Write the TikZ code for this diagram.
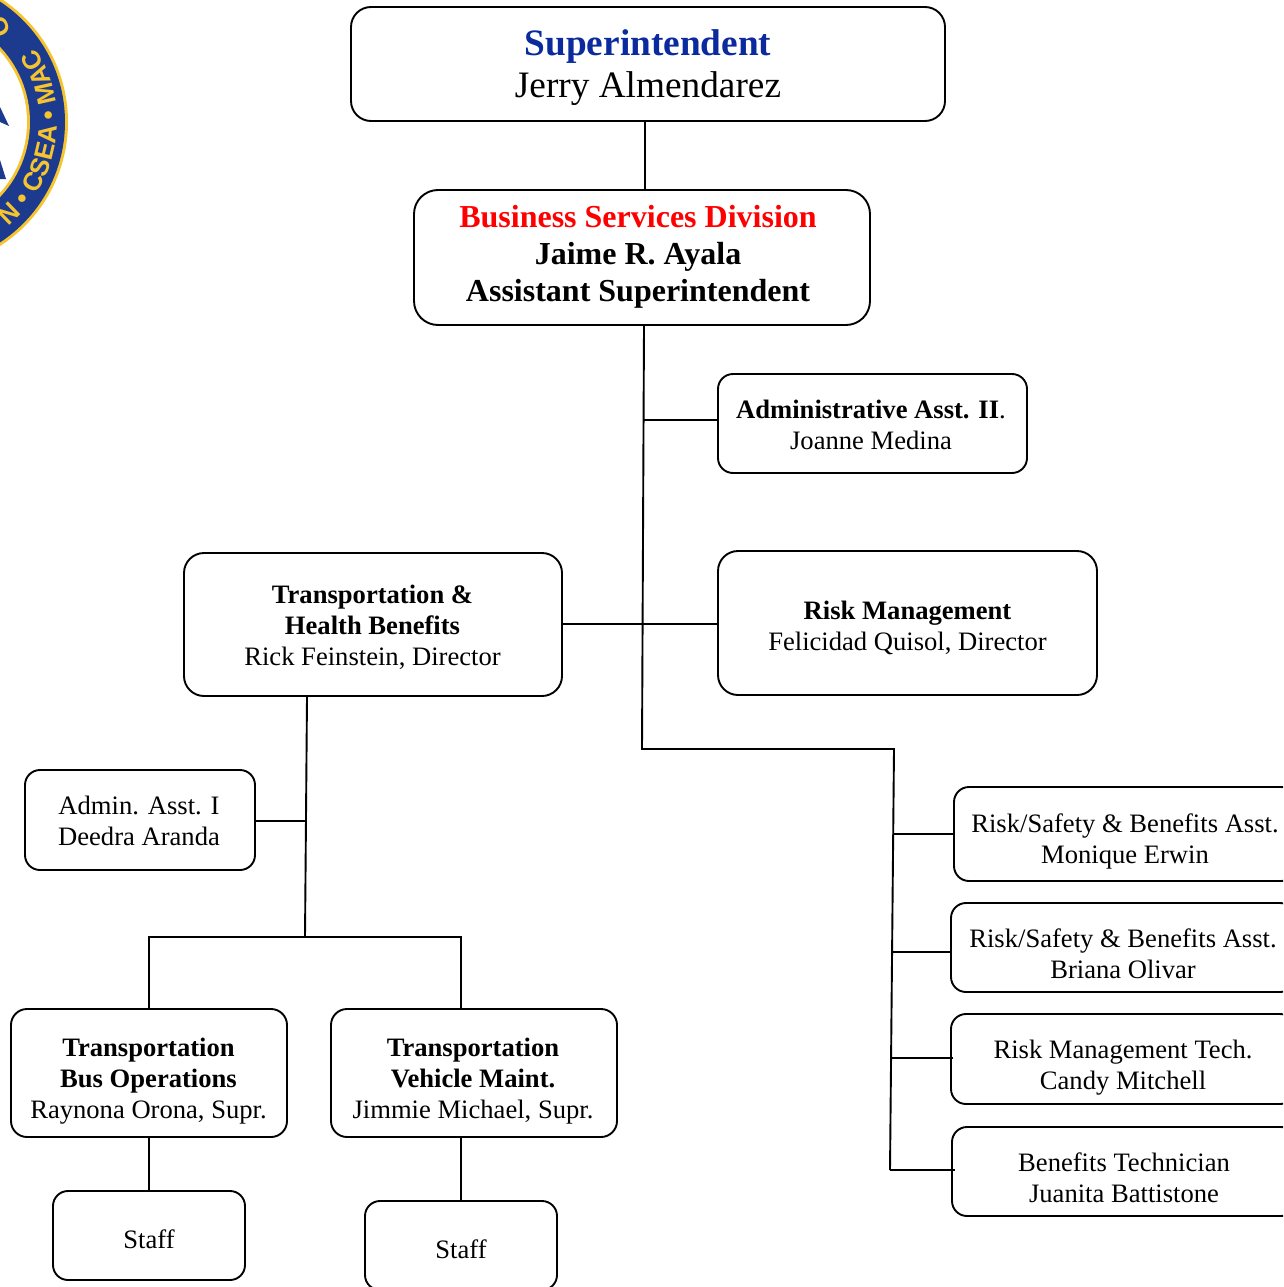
\documentclass[tikz,border=0pt]{standalone}
\usepackage{fontspec}
\setmainfont{Liberation Serif}
\setsansfont{Liberation Sans}
\usetikzlibrary{decorations.text}
\definecolor{sealblue}{HTML}{1C3A8E}
\definecolor{sealgold}{HTML}{F6C42F}
\definecolor{titleblue}{HTML}{0B2A9E}
\newsavebox{\orgtxtbox}
% #1 right shift (twice the wanted shift), #2 downward shift, #3 lines
\newcommand{\orgtxt}[3]{\sbox{\orgtxtbox}{\begin{tabular}[b]{@{}c@{}}#3\end{tabular}}%
  \raisebox{\dimexpr-#2pt-0.5\ht\orgtxtbox+0.5\dp\orgtxtbox\relax}[0pt][0pt]{\makebox[0pt][c]{\hspace*{#1pt}\usebox{\orgtxtbox}}}}
\tikzset{
  orgbox/.style={draw=black,line width=1.9pt,rounded corners=#1,inner sep=0pt,text=black},
  orgbox/.default=18pt,
  small/.style={font=\fontsize{26.6}{30.8}\selectfont},
  link/.style={draw=black,line width=1.9pt},
}
\begin{document}
\begin{tikzpicture}[x=1pt,y=-1pt]
\useasboundingbox (0,0) rectangle (1283,1287);
\clip (0,0) rectangle (1283,1287);
% seal
\fill[sealgold] (-79,122) circle (147);
\fill[sealblue] (-79,122) circle (144);
\fill[sealgold] (-79,122) circle (109);
\fill[white] (-79,122) circle (106);
\fill[sealblue] (0,107) -- (9,126) -- (0,122) -- cycle;
\fill[sealblue] (0,160) -- (6,179) -- (0,179) -- cycle;
\path[decorate,decoration={text along path,text align=center,
  text={|\fontsize{26}{26}\selectfont\color{sealgold}\sffamily\bfseries|N • CSEA • MAC}}]
  (-79,122) ++(72:136) arc[start angle=72,end angle=-55,radius=136];
\node[text=sealgold,font=\fontsize{26}{26}\selectfont\sffamily\bfseries,rotate=-70] (sealo) at (-1,27) {O};
% boxes
\node[orgbox=20pt,minimum width=594pt,minimum height=114pt,font=\fontsize{37.3}{42}\selectfont] (sup) at (648,64)
  {\orgtxt{0}{4}{\textcolor{titleblue}{\textbf{Superintendent}}\\Jerry Almendarez}};
\node[orgbox=24pt,minimum width=456pt,minimum height=135pt,font=\fontsize{32}{37}\selectfont\bfseries] (bsd) at (642,257.5)
  {\orgtxt{-8}{0}{\textcolor{red}{Business Services Division}\\Jaime R. Ayala\\Assistant Superintendent}};
\node[orgbox=15pt,small,minimum width=309pt,minimum height=99pt] (adm) at (872.5,423.5)
  {\orgtxt{-3}{4.5}{\textbf{Administrative Asst. II}.\\Joanne Medina}};
\node[orgbox=20pt,small,minimum width=378pt,minimum height=143pt] (trn) at (373,624.5)
  {\orgtxt{-1}{4}{\textbf{Transportation \&}\\\textbf{Health Benefits}\\Rick Feinstein, Director}};
\node[orgbox=20pt,small,minimum width=379pt,minimum height=144pt] (rsk) at (907.5,623)
  {\orgtxt{0}{5.5}{\textbf{Risk Management}\\Felicidad Quisol, Director}};
\node[orgbox=15pt,small,minimum width=230pt,minimum height=100pt] (ai) at (140,820)
  {\orgtxt{-2}{4}{Admin. Asst. I\\Deedra Aranda}};
\node[orgbox=16pt,small,minimum width=276pt,minimum height=128pt] (bus) at (149,1073)
  {\orgtxt{-1}{8.5}{\textbf{Transportation}\\\textbf{Bus Operations}\\Raynona Orona, Supr.}};
\node[orgbox=16pt,small,minimum width=286pt,minimum height=128pt] (veh) at (474,1073)
  {\orgtxt{-2}{8.5}{\textbf{Transportation}\\\textbf{Vehicle Maint.}\\Jimmie Michael, Supr.}};
\node[orgbox=15pt,small,minimum width=192pt,minimum height=89pt] (st1) at (149,1235.5) {\orgtxt{0}{7}{Staff}};
\node[orgbox=15pt,small,minimum width=192pt,minimum height=89pt] (st2) at (461,1245.5) {\orgtxt{0}{7}{Staff}};
\node[orgbox=15pt,small,minimum width=342pt,minimum height=94pt] (r1) at (1125,834)
  {\orgtxt{0}{8}{Risk/Safety \& Benefits Asst.\\Monique Erwin}};
\node[orgbox=15pt,small,minimum width=344pt,minimum height=89pt] (r2) at (1123,947.5)
  {\orgtxt{0}{9.5}{Risk/Safety \& Benefits Asst.\\Briana Olivar}};
\node[orgbox=15pt,small,minimum width=344pt,minimum height=90pt] (r3) at (1123,1059)
  {\orgtxt{0}{8.5}{Risk Management Tech.\\Candy Mitchell}};
\node[orgbox=15pt,small,minimum width=344pt,minimum height=89pt] (r4) at (1124,1171.5)
  {\orgtxt{0}{9.5}{Benefits Technician\\Juanita Battistone}};
% junction points
\coordinate (a) at (645,0);
\coordinate (t0) at (644,0);
\coordinate (t1) at (642,749);
\coordinate (t2) at (894,749);
\coordinate (t3) at (890,1170);
\coordinate (jadm) at (643,420);
\coordinate (jtrn) at (563,624);
\coordinate (jrsk) at (716,624);
\coordinate (j1) at (893,834);
\coordinate (j2) at (892,952);
\coordinate (j3) at (891,1058);
\coordinate (e3) at (953,1058);
\coordinate (j4) at (955,1170);
\coordinate (l0) at (307,0);
\coordinate (l1) at (305,937);
\coordinate (jai) at (306,821);
\coordinate (b1) at (149,937);
\coordinate (b2) at (461,937);
% connectors
\draw[link] (a |- sup.south) -- (a |- bsd.north);
\draw[link,line join=miter] (t0 |- bsd.south) -- (t1) -- (t2) -- (t3);
\draw[link] (jadm) -- (jadm -| adm.west);
\draw[link] (jtrn -| trn.east) -- (jrsk -| rsk.west);
\draw[link] (j1) -- (j1 -| r1.west);
\draw[link] (j2) -- (j2 -| r2.west);
\draw[link] (j3) -- (e3);
\draw[link] (t3) -- (j4);
\draw[link] (l0 |- trn.south) -- (l1);
\draw[link] (ai.east |- jai) -- (jai);
\draw[link] (b1 |- bus.north) -- (b1) -- (b2) -- (b2 |- veh.north);
\draw[link] (bus.south -| b1) -- (st1.north -| b1);
\draw[link] (veh.south -| b2) -- (st2.north -| b2);
\end{tikzpicture}
\end{document}
